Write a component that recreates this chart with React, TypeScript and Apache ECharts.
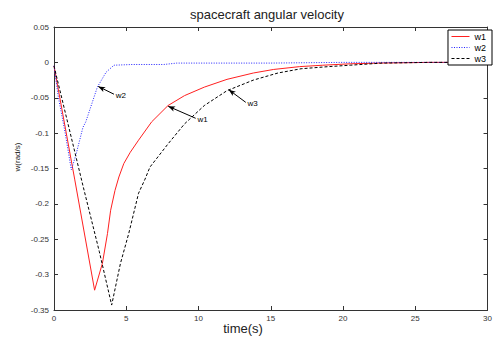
import React, { useEffect, useRef } from "react";
import * as echarts from "echarts";

const xTicks = [0, 5, 10, 15, 20, 25, 30];
const yTicks = [0.05, 0, -0.05, -0.1, -0.15, -0.2, -0.25, -0.3, -0.35];

const w1T = [0, 1.43, 2.81, 3.35, 3.7, 3.92, 4.22, 4.49, 4.83, 5.28, 5.85, 6.76, 7.89, 9.03, 10.4, 11.97, 13.8, 15.2, 17, 18.6, 20.5, 22.5, 26, 30];
const w1V = [-0.005, -0.165, -0.322, -0.284, -0.242, -0.209, -0.181, -0.162, -0.143, -0.127, -0.11, -0.084, -0.061, -0.047, -0.035, -0.024, -0.015, -0.01, -0.006, -0.004, -0.002, -0.001, 0, 0];

const w2T = [0, 0.3, 0.75, 1.2, 1.54, 2.0, 2.2, 3.0, 3.6, 4.15, 5.4, 7.6, 8.5, 15, 20, 30];
const w2V = [-0.005, -0.049, -0.097, -0.152, -0.129, -0.092, -0.084, -0.035, -0.014, -0.004, -0.003, -0.003, -0.001, -0.001, 0, 0];

const w3T = [0, 2.0, 3.13, 3.99, 4.6, 5.17, 5.85, 6.3, 6.64, 7.9, 9.03, 10.4, 11.97, 13.8, 15.5, 17.1, 19, 20.5, 22.7, 26, 30];
const w3V = [-0.005, -0.174, -0.267, -0.343, -0.284, -0.242, -0.185, -0.165, -0.148, -0.115, -0.087, -0.061, -0.04, -0.025, -0.015, -0.009, -0.006, -0.004, -0.001, 0, 0];

// annotation arrows: [label, fromT, fromV, toT, toV]
const notes: [string, number, number, number, number][] = [
  ["w2", 4.15, -0.045, 3.06, -0.034],
  ["w1", 9.8, -0.079, 7.9, -0.062],
  ["w3", 13.27, -0.0565, 12.09, -0.0386],
];

const zip = (t: number[], v: number[]) => t.map((x, i) => [x, v[i]]);

const FONT = "Liberation Sans, Arial, sans-serif";

function arrow(name: string) {
  const n = notes.find((a) => a[0] === name)!;
  return {
    silent: true,
    symbol: ["none", "arrow"],
    symbolSize: [4, 7],
    lineStyle: { color: "#000", width: 1, type: "solid" },
    label: {
      show: true,
      position: "start",
      formatter: n[0],
      color: "#000",
      fontSize: 8,
      fontFamily: FONT,
      distance: 2,
    },
    data: [[{ coord: [n[1], n[2]] }, { coord: [n[3], n[4]] }]],
  };
}

export default function App() {
  const ref = useRef<HTMLDivElement>(null);
  useEffect(() => {
    const chart = echarts.init(ref.current!, undefined, { renderer: "svg" });
    const axisCommon = {
      axisLine: { show: true, onZero: false, lineStyle: { color: "#333", width: 1 } },
      axisTick: { show: true, inside: true, length: 4, lineStyle: { color: "#333" } },
      splitLine: { show: false },
    };
    chart.setOption({
      animation: false,
      backgroundColor: "#fff",
      title: {
        text: "spacecraft angular velocity",
        left: 262,
        top: 3,
        textAlign: "center",
        textStyle: { fontSize: 13, fontWeight: "normal", color: "#222", fontFamily: FONT },
      },
      legend: {
        orient: "vertical",
        right: 3,
        top: 30,
        backgroundColor: "#fff",
        borderColor: "#000",
        borderWidth: 1,
        borderRadius: 0,
        padding: [2, 6, 2, 3],
        itemGap: 2,
        itemWidth: 18,
        itemHeight: 8,
        itemStyle: { opacity: 0 },
        lineStyle: { width: 1 },
        textStyle: { fontSize: 9, color: "#000", fontFamily: FONT },
        data: ["w1", "w2", "w3"],
      },
      grid: { left: 54, top: 27, right: 0, bottom: 28 },
      graphic: [
        {
          type: "text",
          x: 243,
          y: 328,
          style: {
            text: "time(s)",
            fontSize: 13,
            fill: "#222",
            fontFamily: FONT,
            align: "center",
            verticalAlign: "middle",
          },
        },
        {
          type: "text",
          x: 17,
          y: 157,
          rotation: Math.PI / 2,
          style: {
            text: "w(rad/s)",
            fontSize: 8,
            fill: "#222",
            fontFamily: FONT,
            align: "center",
            verticalAlign: "middle",
          },
        },
      ],
      xAxis: [
        {
          type: "value",
          min: xTicks[0],
          max: xTicks[xTicks.length - 1],
          interval: 5,
          position: "bottom",
          axisLabel: { fontSize: 8, color: "#333", margin: 4, fontFamily: FONT },
          ...axisCommon,
        },
        {
          type: "value",
          min: xTicks[0],
          max: xTicks[xTicks.length - 1],
          interval: 5,
          position: "top",
          axisLabel: { show: false },
          ...axisCommon,
        },
      ],
      yAxis: [
        {
          type: "value",
          min: yTicks[yTicks.length - 1],
          max: yTicks[0],
          interval: 0.05,
          position: "left",
          axisLabel: {
            fontSize: 8,
            color: "#333",
            margin: 5,
            fontFamily: FONT,
            formatter: (v: number) => String(+v.toFixed(2)),
          },
          ...axisCommon,
        },
        {
          type: "value",
          min: yTicks[yTicks.length - 1],
          max: yTicks[0],
          interval: 0.05,
          position: "right",
          axisLabel: { show: false },
          ...axisCommon,
        },
      ],
      series: [
        {
          name: "w1",
          type: "line",
          data: zip(w1T, w1V),
          showSymbol: false,
          symbol: "none",
          lineStyle: { color: "#ff2020", width: 1, type: "solid" },
          itemStyle: { color: "#ff2020" },
          markLine: arrow("w1"),
        },
        {
          name: "w2",
          type: "line",
          data: zip(w2T, w2V),
          showSymbol: false,
          symbol: "none",
          lineStyle: { color: "#2020ff", width: 1, type: [1, 1.5] },
          itemStyle: { color: "#2020ff" },
          markLine: arrow("w2"),
        },
        {
          name: "w3",
          type: "line",
          data: zip(w3T, w3V),
          showSymbol: false,
          symbol: "none",
          lineStyle: { color: "#000", width: 1, type: [3, 2] },
          itemStyle: { color: "#000" },
          markLine: arrow("w3"),
        },
      ],
    });
    return () => chart.dispose();
  }, []);
  return (
    <div
      ref={ref}
      style={{ position: "fixed", left: 0, top: 0, width: 495, height: 338 }}
    />
  );
}
